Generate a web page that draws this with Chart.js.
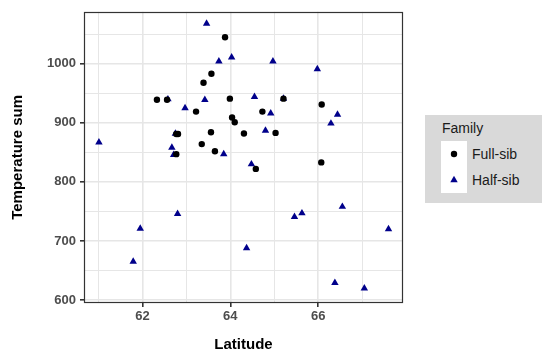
<!DOCTYPE html>
<html>
<head>
<meta charset="utf-8">
<script src="https://cdn.jsdelivr.net/npm/chart.js@4/dist/chart.umd.min.js"></script>
<style>
  body { margin: 0; background: #fff; }
  #wrap { position: relative; width: 550px; height: 358px; }
  #legend {
    position: absolute; left: 425px; top: 115px; width: 117px; height: 88px;
    background: #d9d9d9; font-family: "Liberation Sans", Arial, sans-serif; color: #1a1a1a;
  }
  #legend .title { position: absolute; left: 17px; top: 5px; font-size: 14px; }
  #legend .keys { position: absolute; left: 16px; top: 26px; width: 26px; height: 52px; background: #fff; }
  #legend .lab { position: absolute; left: 47px; font-size: 14px; }
</style>
</head>
<body>
<div id="wrap">
  <canvas id="chart" width="550" height="358"></canvas>
  <div id="legend">
    <div class="title">Family</div>
    <div class="keys"><canvas id="keys" width="26" height="52"></canvas></div>
    <div class="lab" style="top:31px">Full-sib</div>
    <div class="lab" style="top:57px">Half-sib</div>
  </div>
</div>
<script>
// ===== data =====
const fullLat  = [63.88, 63.57, 63.39, 62.33, 62.56, 63.99, 63.22, 64.04, 64.10, 62.77, 62.81, 63.56, 63.35, 63.65, 62.77, 65.21, 66.08, 64.73, 65.03, 64.31, 64.58, 66.07];
const fullTemp = [1045, 983, 968, 939, 939, 941, 919, 909, 901, 881, 881, 884, 864, 852, 847, 941, 931, 919, 883, 882, 822, 833];

const halfLat  = [63.46, 64.03, 63.74, 64.97, 65.98, 62.58, 62.97, 63.42, 61.01, 62.75, 62.67, 62.71, 63.85, 64.55, 65.21, 64.92, 66.44, 66.29, 64.80, 64.48, 66.55, 65.63, 65.46, 67.60, 64.37, 66.38, 67.05, 62.80, 61.95, 61.79];
const halfTemp = [1068, 1011, 1004, 1004, 991, 940, 925, 939, 867, 882, 858, 846, 847, 944, 941, 916, 914, 899, 887, 830, 758, 747, 741, 720, 688, 629, 620, 746, 721, 665];

const xTicks = [62, 64, 66];
const yTicks = [600, 700, 800, 900, 1000];
const xGrid = [61, 62, 63, 64, 65, 66, 67];
const yGrid = [600, 650, 700, 750, 800, 850, 900, 950, 1000, 1050];

function pts(xs, ys) {
  return xs.map((x, i) => ({ x, y: ys[i] }));
}

const FONT = "'Liberation Sans', Arial, sans-serif";

// panel border on all 4 sides
const borderPlugin = {
  id: "panelBorder",
  afterDatasetsDraw(chart) {
    const a = chart.chartArea, c = chart.ctx;
    c.save();
    c.strokeStyle = "#333333";
    c.lineWidth = 1.2;
    c.strokeRect(Math.round(a.left) + 0.5, Math.round(a.top) + 0.5, Math.round(a.right - a.left) - 1, Math.round(a.bottom - a.top) - 1);
    c.restore();
  }
};

new Chart(document.getElementById("chart"), {
  type: "scatter",
  data: {
    datasets: [
      { label: "Full-sib", data: pts(fullLat, fullTemp), pointStyle: "circle", pointRadius: 3.2, backgroundColor: "#000", borderColor: "#000", borderWidth: 0 },
      { label: "Half-sib", data: pts(halfLat, halfTemp), pointStyle: "triangle", pointRadius: 4.3, backgroundColor: "#00008b", borderColor: "#00008b", borderWidth: 0 }
    ]
  },
  options: {
    responsive: false,
    animation: false,
    layout: { padding: { top: 8, right: 147, left: 0, bottom: 0 } },
    plugins: { legend: { display: false }, tooltip: { enabled: false } },
    scales: {
      x: {
        type: "linear",
        min: 60.67, max: 67.93,
        afterBuildTicks: s => { s.ticks = xGrid.map(v => ({ value: v })); },
        afterFit: s => { s.height = 55; },
        grid: {
          color: "#e6e6e6",
          lineWidth: c => xTicks.includes(c.tick && c.tick.value) ? 1.6 : 1,
          tickColor: c => xTicks.includes(c.tick && c.tick.value) ? "#333333" : "rgba(0,0,0,0)",
          tickLength: 4
        },
        border: { display: false },
        ticks: {
          color: "#4d4d4d",
          font: { family: FONT, size: 13, weight: "bold" },
          padding: 2,
          maxRotation: 0,
          autoSkip: false,
          callback: v => xTicks.includes(v) ? String(v) : ""
        },
        title: { display: true, text: "Latitude", color: "#000", font: { family: FONT, size: 15, weight: "bold" }, padding: { top: 3 } }
      },
      y: {
        type: "linear",
        min: 595, max: 1088,
        afterBuildTicks: s => { s.ticks = yGrid.map(v => ({ value: v })); },
        afterFit: s => { s.width = 84; },
        grid: {
          color: "#e6e6e6",
          lineWidth: c => yTicks.includes(c.tick && c.tick.value) ? 1.6 : 1,
          tickColor: c => yTicks.includes(c.tick && c.tick.value) ? "#333333" : "rgba(0,0,0,0)",
          tickLength: 4
        },
        border: { display: false },
        ticks: {
          color: "#4d4d4d",
          font: { family: FONT, size: 13, weight: "bold" },
          padding: 4,
          autoSkip: false,
          callback: v => yTicks.includes(v) ? String(v) : ""
        },
        title: { display: true, text: "Temperature sum", color: "#000", font: { family: FONT, size: 15, weight: "bold" }, padding: { top: 9, bottom: 0 } }
      }
    }
  },
  plugins: [borderPlugin]
});

// legend keys
const k = document.getElementById("keys").getContext("2d");
k.fillStyle = "#000"; k.beginPath(); k.arc(13, 13, 3.2, 0, Math.PI * 2); k.fill();
k.fillStyle = "#00008b";
Chart.helpers.drawPoint(k, { pointStyle: "triangle", radius: 4.3, borderWidth: 0 }, 13, 39);
</script>
</body>
</html>
